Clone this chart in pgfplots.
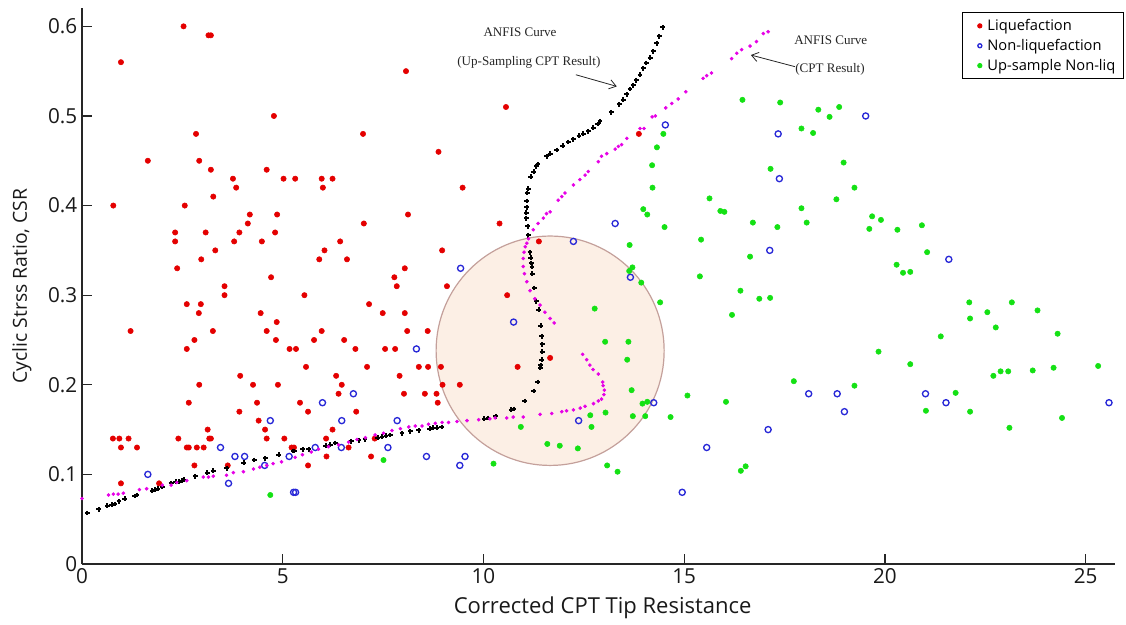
\documentclass[border=0pt]{standalone}
\usepackage{fontspec}
\setmainfont{Open Sans}
\newfontfamily\annfont{Liberation Serif}
\usepackage{pgfplots}
\pgfplotsset{compat=1.18}
\usetikzlibrary{arrows.meta}

\definecolor{liqred}{RGB}{228,0,0}
\definecolor{nonblue}{RGB}{40,40,215}
\definecolor{upgreen}{RGB}{20,225,20}
\definecolor{cptmag}{RGB}{230,0,230}
\definecolor{zonefill}{RGB}{252,239,229}
\definecolor{zoneedge}{RGB}{196,160,155}

\begin{document}
\begin{tikzpicture}
\begin{axis}[
  at={(0,0)}, anchor=south west,
  scale only axis,
  width=774.75pt, height=417pt,
  xmin=0, xmax=25.73, ymin=0, ymax=0.6205,
  axis x line*=bottom, axis y line*=left,
  axis line style={black!85, line width=0.9pt},
  xtick={0,5,10,15,20,25},
  ytick={0,0.1,0.2,0.3,0.4,0.5,0.6},
  yticklabels={0,0.1,0.2,0.3,0.4,0.5,0.6},
  tick align=inside,
  major tick length=7.5pt,
  tick style={black!85, line width=0.9pt},
  /pgf/number format/assume math mode=true,
  tick label style={font=\fontsize{15.5}{18}\selectfont, black!90},
  xlabel={Corrected CPT Tip Resistance},
  ylabel={Cyclic Strss Ratio, CSR},
  every axis x label/.style={at={(axis description cs:0.504,-0.0791)}, anchor=center,
    font=\fontsize{16.5}{19}\selectfont, black!90},
  every axis y label/.style={at={(axis description cs:-0.0581,0.5)}, anchor=center, rotate=90,
    font=\fontsize{14.5}{17}\selectfont, black!90},
  clip=false,
  legend style={
    at={(1.0087,0.9928)}, anchor=north east,
    draw=black, line width=0.9pt,
    font=\fontsize{11}{13}\selectfont,
    inner xsep=4pt, inner ysep=3pt,
    row sep=1pt,
    cells={anchor=west},
  },
  legend cell align=left,
  legend image code/.code={%
    \path[draw=none, fill=none] (0cm,0cm) -- (0.45cm,0cm);
    \draw[#1, mark size=1.5pt] plot coordinates {(0.32cm,0cm)};},
]

% highlighted transition zone
\filldraw[fill=zonefill, draw=zoneedge, line width=0.9pt]
  (axis cs:11.66,0.238) ellipse [x radius=2.84, y radius=0.128];

% Liquefaction cases
\addplot[only marks, mark=*, mark size=2pt, mark options={fill=liqred, draw=liqred}] coordinates {
(2.53,0.60) (0.97,0.56) (3.15,0.59) (3.21,0.59) (2.84,0.48) (4.78,0.50) (7.00,0.48)
(1.64,0.45) (2.92,0.45) (3.21,0.44) (4.60,0.44) (3.76,0.43) (3.84,0.42) (5.02,0.43)
(5.31,0.43) (5.97,0.43) (6.24,0.43) (6.00,0.42) (0.78,0.40) (2.56,0.40) (3.27,0.41)
(4.18,0.39) (4.86,0.39) (4.13,0.38) (7.02,0.38) (2.32,0.37) (3.08,0.37) (3.92,0.37)
(4.81,0.37) (2.32,0.36) (3.79,0.36) (4.48,0.36) (6.43,0.36) (3.32,0.35) (6.04,0.35)
(2.97,0.34) (5.91,0.34) (6.60,0.34) (2.37,0.33) (4.71,0.32) (3.55,0.31) (3.55,0.30)
(5.54,0.30) (2.61,0.29) (2.96,0.29) (7.15,0.29) (2.91,0.28) (4.45,0.28) (4.85,0.27)
(1.21,0.26) (3.26,0.26) (4.60,0.26) (5.97,0.26) (8.10,0.26) (8.61,0.26) (2.61,0.24)
(2.80,0.25) (4.83,0.25) (5.78,0.25) (6.53,0.25) (5.17,0.24) (5.33,0.24) (6.81,0.24)
(7.55,0.24) (7.80,0.24) (5.58,0.22) (7.10,0.22) (8.39,0.22) (8.62,0.22) (8.94,0.22)
(3.94,0.21) (6.33,0.21) (7.91,0.21) (2.92,0.20) (4.26,0.20) (4.88,0.20) (6.47,0.20)
(8.98,0.20) (9.41,0.20) (6.39,0.19) (8.02,0.19) (8.54,0.19) (8.83,0.19) (2.66,0.18)
(4.36,0.18) (5.43,0.18) (8.86,0.18) (3.92,0.17) (5.63,0.17) (6.83,0.17) (4.40,0.16)
(3.13,0.15) (4.56,0.15) (6.24,0.15) (0.77,0.14) (0.93,0.14) (1.16,0.14) (2.40,0.14)
(3.17,0.14) (3.21,0.14) (4.60,0.14) (5.04,0.14) (6.08,0.14) (7.29,0.14) (0.97,0.13)
(1.37,0.13) (2.61,0.13) (2.66,0.13) (2.86,0.13) (3.03,0.13) (5.22,0.13) (5.28,0.13)
(6.64,0.13) (6.09,0.12) (7.20,0.12) (2.80,0.11) (3.63,0.11) (5.63,0.11) (0.97,0.09)
(1.92,0.09) (8.88,0.46) (9.48,0.42) (8.12,0.39) (8.97,0.35) (8.04,0.33) (7.78,0.32)
(7.84,0.31) (9.09,0.31) (7.49,0.28) (8.04,0.28) (8.07,0.55) (10.56,0.51) (10.40,0.38)
(10.59,0.30) (11.38,0.36) (13.87,0.48) (10.85,0.22) (11.66,0.23)
};
\addlegendentry{Liquefaction}

% Non-liquefaction cases
\addplot[only marks, mark=o, mark size=2.3pt, mark options={draw=nonblue, line width=1pt}] coordinates {
(1.64,0.10) (3.45,0.13) (3.81,0.12) (4.05,0.12) (3.65,0.09) (4.55,0.11) (4.69,0.16)
(5.16,0.12) (5.27,0.08) (5.32,0.08) (5.99,0.18) (5.81,0.13) (6.47,0.16) (6.46,0.13)
(6.76,0.19) (8.33,0.24) (7.85,0.16) (7.62,0.13) (8.58,0.12) (9.54,0.12) (9.41,0.11)
(9.43,0.33) (10.75,0.27) (12.24,0.36) (13.28,0.38) (13.66,0.32) (14.53,0.49) (12.37,0.16)
(14.24,0.18) (15.56,0.13) (14.95,0.08) (17.34,0.48) (19.52,0.50) (17.37,0.43) (17.13,0.35)
(21.59,0.34) (17.09,0.15) (18.10,0.19) (18.81,0.19) (18.99,0.17) (21.01,0.19) (21.52,0.18)
(25.58,0.18)
};
\addlegendentry{Non-liquefaction}

% Up-sampled non-liquefaction cases
\addplot[only marks, mark=*, mark size=2pt, mark options={fill=upgreen, draw=upgreen}] coordinates {
(4.69,0.077) (7.51,0.116) (16.45,0.518) (17.39,0.515) (18.34,0.507) (18.86,0.510) (18.62,0.499)
(17.92,0.486) (18.21,0.481) (14.48,0.480) (14.32,0.465) (14.20,0.445) (14.21,0.420) (13.98,0.396)
(14.08,0.390) (18.97,0.448) (17.15,0.441) (19.24,0.420) (18.79,0.407) (15.63,0.408) (15.90,0.394)
(16.00,0.393) (17.92,0.397) (18.05,0.381) (16.71,0.381) (17.32,0.376) (14.51,0.376) (19.68,0.388)
(19.90,0.384) (19.61,0.374) (20.31,0.373) (20.92,0.378) (15.42,0.362) (13.64,0.356) (16.64,0.343)
(21.05,0.348) (20.29,0.334) (20.45,0.325) (20.63,0.326) (13.71,0.331) (13.63,0.327) (13.93,0.314)
(15.39,0.321) (16.40,0.305) (16.87,0.296) (17.14,0.297) (14.40,0.292) (16.19,0.278) (22.10,0.292)
(23.16,0.292) (22.12,0.274) (22.55,0.281) (22.76,0.264) (23.80,0.283) (24.30,0.257) (21.39,0.254)
(19.84,0.237) (20.63,0.223) (22.70,0.210) (22.88,0.215) (23.07,0.215) (23.68,0.216) (24.20,0.219)
(25.31,0.221) (17.73,0.204) (19.24,0.199) (21.76,0.191) (21.02,0.171) (22.12,0.170) (24.41,0.163)
(23.10,0.152) (12.77,0.285) (13.03,0.248) (13.61,0.248) (13.58,0.228) (13.69,0.194) (15.08,0.188)
(13.96,0.179) (14.08,0.181) (13.72,0.165) (14.03,0.165) (14.66,0.164) (12.66,0.166) (13.04,0.169)
(12.69,0.153) (10.93,0.153) (11.59,0.134) (11.90,0.132) (12.35,0.129) (13.08,0.110) (13.34,0.103)
(10.25,0.112) (16.04,0.181) (16.41,0.104) (16.53,0.109)
};
\addlegendentry{Up-sample Non-liq}

% ANFIS boundary, up-sampled CPT data
\addplot[forget plot, only marks, mark=+, mark size=1.8pt, mark options={draw=black, line width=1.5pt}] coordinates {
(0.13,0.057) (0.42,0.061) (0.63,0.065) (0.74,0.066) (0.82,0.067) (0.92,0.070) (1.06,0.073)
(1.31,0.076) (1.36,0.077) (1.75,0.082) (1.81,0.083) (1.89,0.084) (2.00,0.086) (2.22,0.090)
(2.33,0.092) (2.41,0.092) (2.48,0.093) (2.53,0.094) (2.82,0.098) (3.12,0.102) (3.27,0.104)
(3.60,0.107) (4.03,0.113) (4.29,0.116) (4.57,0.118) (4.90,0.122) (5.26,0.126) (5.29,0.126)
(5.50,0.128) (5.65,0.128) (6.07,0.132) (6.18,0.133) (6.31,0.135) (6.71,0.137) (6.90,0.138)
(7.05,0.139) (7.37,0.141) (7.47,0.142) (7.57,0.143) (7.68,0.144) (7.97,0.146) (8.18,0.148)
(8.39,0.149) (8.66,0.151) (8.75,0.152) (8.84,0.152) (8.96,0.153) (10.02,0.162) (10.11,0.163)
(10.30,0.165) (10.69,0.172) (10.75,0.173) (11.03,0.182) (11.25,0.193) (11.35,0.203) (11.42,0.219)
(11.43,0.222) (11.45,0.228) (11.46,0.237) (11.46,0.245) (11.45,0.254) (11.43,0.266) (11.38,0.284)
(11.32,0.293) (11.27,0.308) (11.22,0.324) (11.21,0.332) (11.19,0.336) (11.18,0.342) (11.16,0.348)
(11.12,0.367) (11.10,0.377) (11.07,0.386) (11.07,0.392) (11.08,0.398) (11.08,0.405) (11.09,0.414)
(11.12,0.419) (11.18,0.432) (11.25,0.438) (11.32,0.444) (11.36,0.446) (11.57,0.455) (11.66,0.458)
(11.82,0.462) (11.97,0.467) (12.11,0.471) (12.24,0.474) (12.38,0.478) (12.49,0.480) (12.61,0.483)
(12.74,0.487) (12.84,0.491) (12.90,0.494) (13.18,0.504) (13.38,0.513) (13.48,0.518) (13.57,0.524)
(13.65,0.530) (13.73,0.534) (13.81,0.540) (13.90,0.546) (13.98,0.553) (14.06,0.559) (14.15,0.565)
(14.23,0.572) (14.31,0.581) (14.38,0.589) (14.46,0.599)
};

% ANFIS boundary, original CPT data
\addplot[forget plot, only marks, mark=*, mark size=1.15pt, mark options={fill=cptmag, draw=cptmag}] coordinates {
(0.00,0.073) (0.66,0.077) (0.78,0.078) (0.90,0.078) (1.03,0.079) (1.43,0.083) (1.61,0.084)
(2.00,0.088) (2.22,0.088) (2.36,0.091) (2.61,0.093) (3.02,0.097) (3.15,0.097) (3.27,0.098)
(3.60,0.099) (3.77,0.102) (4.02,0.103) (4.27,0.106) (4.43,0.108) (4.60,0.110) (4.76,0.112)
(4.97,0.114) (5.31,0.119) (5.49,0.122) (5.71,0.125) (5.89,0.128) (6.14,0.131) (6.39,0.133)
(6.64,0.136) (6.85,0.139) (7.06,0.141) (7.30,0.144) (7.51,0.146) (7.72,0.149) (7.93,0.151)
(8.14,0.153) (8.30,0.154) (8.47,0.154) (8.63,0.156) (8.80,0.157) (8.97,0.158) (9.13,0.158)
(9.34,0.159) (9.59,0.160) (9.88,0.161) (10.16,0.162) (10.29,0.163) (10.58,0.163) (10.74,0.164)
(10.99,0.164) (11.41,0.167) (11.70,0.168) (11.95,0.170) (12.07,0.171) (12.24,0.172) (12.41,0.174)
(12.53,0.176) (12.74,0.179) (12.86,0.182) (12.94,0.184) (13.00,0.189) (13.01,0.194) (12.98,0.199)
(12.97,0.203) (12.86,0.212) (12.73,0.217) (12.65,0.222) (12.57,0.228) (12.47,0.234)
(11.76,0.269) (11.66,0.274) (11.53,0.281) (11.41,0.289) (11.28,0.296) (11.16,0.305) (11.08,0.315)
(11.02,0.324) (10.99,0.332) (10.99,0.341) (11.01,0.348) (11.04,0.354) (11.08,0.358) (11.12,0.363)
(11.24,0.373) (11.36,0.380) (11.49,0.386) (11.57,0.391) (11.66,0.393) (11.86,0.406) (11.95,0.410)
(12.03,0.414) (12.24,0.423) (12.40,0.429) (12.53,0.434) (12.61,0.438) (12.86,0.449) (12.94,0.455)
(13.07,0.458) (13.28,0.463) (13.36,0.466) (13.44,0.468) (13.57,0.475) (13.90,0.486) (14.00,0.486)
(14.20,0.499) (14.28,0.500) (14.54,0.509) (14.69,0.514) (14.85,0.519) (15.04,0.527) (15.47,0.542)
(15.56,0.545) (15.68,0.548) (16.18,0.564) (16.31,0.570) (16.43,0.574) (16.64,0.578) (16.80,0.583)
(16.97,0.592) (17.09,0.594)
};

% curve annotations
\node[font=\annfont\fontsize{9.8}{12}\selectfont, text=black!85] at (axis cs:10.91,0.593) {ANFIS Curve};
\node[font=\annfont\fontsize{9.8}{12}\selectfont, text=black!85] at (axis cs:11.13,0.560) {(Up-Sampling CPT Result)};
\draw[black!85, line width=0.6pt, -{Straight Barb[length=5pt,width=7pt]}] (axis cs:12.30,0.546) -- (axis cs:13.32,0.533);
\node[font=\annfont\fontsize{9.8}{12}\selectfont, text=black!85] at (axis cs:18.65,0.585) {ANFIS Curve};
\node[font=\annfont\fontsize{9.8}{12}\selectfont, text=black!85] at (axis cs:18.63,0.552) {(CPT Result)};
\draw[black!85, line width=0.6pt, -{Straight Barb[length=5pt,width=7pt]}] (axis cs:17.76,0.555) -- (axis cs:16.66,0.568);
\end{axis}
\pgfresetboundingbox
\path[use as bounding box] (-61.5pt,-45pt) rectangle (783pt,423pt);
\end{tikzpicture}
\end{document}
